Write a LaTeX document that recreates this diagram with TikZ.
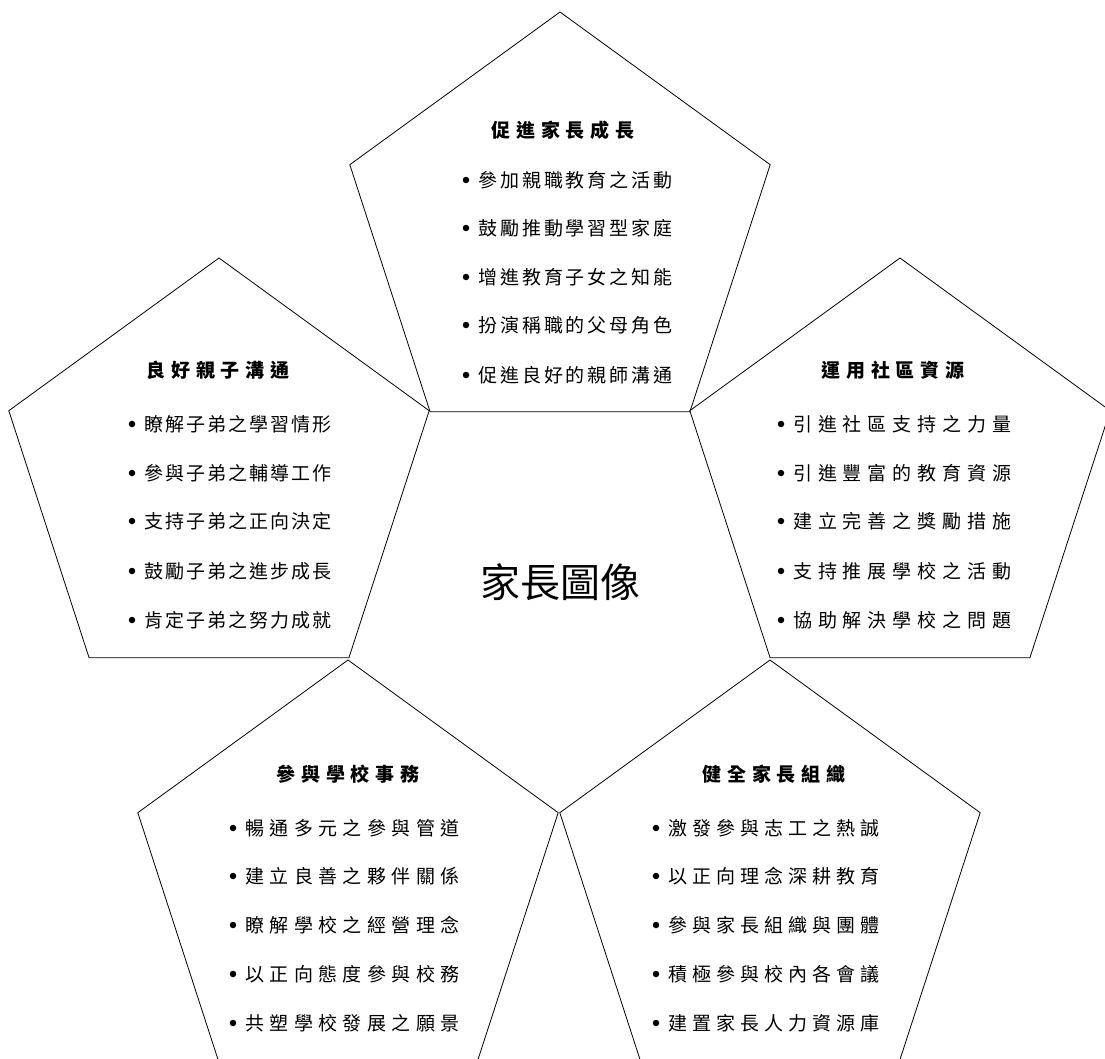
\documentclass[tikz,border=0pt]{standalone}
\usepackage{fontspec}
\usetikzlibrary{shapes.geometric}
\newfontfamily\cjkitemT[LetterSpace=15.5]{Noto Sans CJK TC}
\newfontfamily\cjkitemL[LetterSpace=11]{Noto Sans CJK TC}
\newfontfamily\cjkitemR[LetterSpace=31]{Noto Sans CJK TC}
\newfontfamily\cjkitemBL[LetterSpace=28.5]{Noto Sans CJK TC}
\newfontfamily\cjkitemBR[LetterSpace=26.5]{Noto Sans CJK TC}
\newfontfamily\cjktitle[LetterSpace=30]{Noto Sans CJK TC}
\newfontfamily\cjkbig{Noto Sans CJK TC}
\begin{document}
\begin{tikzpicture}[x=1pt,y=-1pt,
  penta/.style={regular polygon, regular polygon sides=5, minimum size=442pt,
    inner sep=0pt, outer sep=0pt, draw=black, line width=0.8pt},
  ttl/.style={anchor=center, inner sep=0pt, font=\cjktitle\bfseries\fontsize{19}{22}\selectfont},
  itm/.style={anchor=west, inner sep=0pt},
  itmT/.style={itm, font=\cjkitemT\fontsize{19}{22}\selectfont},
  itmL/.style={itm, font=\cjkitemL\fontsize{19}{22}\selectfont},
  itmR/.style={itm, font=\cjkitemR\fontsize{19}{22}\selectfont},
  itmBL/.style={itm, font=\cjkitemBL\fontsize{19}{22}\selectfont},
  itmBR/.style={itm, font=\cjkitemBR\fontsize{19}{22}\selectfont},
  bul/.style={circle, fill=black, inner sep=0pt, minimum size=6.5pt}]
\useasboundingbox (0,0) rectangle (1105,1059);
\begin{scope}
\clip (0,0) rectangle (1105,1059);
\node[penta] (ptop) at (560,233) {};
\node[penta] (pleft) at (219,479) {};
\node[penta] (pright) at (900,479) {};
\node[penta] (pbl) at (348,881) {};
\node[penta] (pbr) at (770,881) {};
\end{scope}

\node[anchor=center, inner sep=0pt, font=\cjkbig\fontsize{40}{44}\selectfont] (center) at (560,582) {家長圖像};

% top
\node[ttl] (t0) at (563,130) {促進家長成長};
\node[bul] (tb1) at (466,180) {}; \node[itmT] (t1) at (478,180) {參加親職教育之活動};
\node[bul] (tb2) at (466,228) {}; \node[itmT] (t2) at (478,228) {鼓勵推動學習型家庭};
\node[bul] (tb3) at (466,277) {}; \node[itmT] (t3) at (478,277) {增進教育子女之知能};
\node[bul] (tb4) at (466,325) {}; \node[itmT] (t4) at (478,325) {扮演稱職的父母角色};
\node[bul] (tb5) at (466,375) {}; \node[itmT] (t5) at (478,375) {促進良好的親師溝通};

% left
\node[ttl] (l0) at (218,370) {良好親子溝通};
\node[bul] (lb1) at (132,424) {}; \node[itmL] (l1) at (144,424) {瞭解子弟之學習情形};
\node[bul] (lb2) at (132,473) {}; \node[itmL] (l2) at (144,473) {參與子弟之輔導工作};
\node[bul] (lb3) at (132,521) {}; \node[itmL] (l3) at (144,521) {支持子弟之正向決定};
\node[bul] (lb4) at (132,571) {}; \node[itmL] (l4) at (144,571) {鼓勵子弟之進步成長};
\node[bul] (lb5) at (132,620) {}; \node[itmL] (l5) at (144,620) {肯定子弟之努力成就};

% right
\node[ttl] (r0) at (893,370) {運用社區資源};
\node[bul] (rb1) at (781,424) {}; \node[itmR] (r1) at (793,424) {引進社區支持之力量};
\node[bul] (rb2) at (781,473) {}; \node[itmR] (r2) at (793,473) {引進豐富的教育資源};
\node[bul] (rb3) at (781,521) {}; \node[itmR] (r3) at (793,521) {建立完善之獎勵措施};
\node[bul] (rb4) at (781,571) {}; \node[itmR] (r4) at (793,571) {支持推展學校之活動};
\node[bul] (rb5) at (781,620) {}; \node[itmR] (r5) at (793,620) {協助解決學校之問題};

% bottom left
\node[ttl] (bl0) at (348,774) {參與學校事務};
\node[bul] (blb1) at (233,828) {}; \node[itmBL] (bl1) at (245,828) {暢通多元之參與管道};
\node[bul] (blb2) at (233,876) {}; \node[itmBL] (bl2) at (245,876) {建立良善之夥伴關係};
\node[bul] (blb3) at (233,925) {}; \node[itmBL] (bl3) at (245,925) {瞭解學校之經營理念};
\node[bul] (blb4) at (233,974) {}; \node[itmBL] (bl4) at (245,974) {以正向態度參與校務};
\node[bul] (blb5) at (233,1023) {}; \node[itmBL] (bl5) at (245,1023) {共塑學校發展之願景};

% bottom right
\node[ttl] (br0) at (774,774) {健全家長組織};
\node[bul] (brb1) at (656,828) {}; \node[itmBR] (br1) at (668,828) {激發參與志工之熱誠};
\node[bul] (brb2) at (656,876) {}; \node[itmBR] (br2) at (668,876) {以正向理念深耕教育};
\node[bul] (brb3) at (656,925) {}; \node[itmBR] (br3) at (668,925) {參與家長組織與團體};
\node[bul] (brb4) at (656,974) {}; \node[itmBR] (br4) at (668,974) {積極參與校內各會議};
\node[bul] (brb5) at (656,1023) {}; \node[itmBR] (br5) at (668,1023) {建置家長人力資源庫};
\end{tikzpicture}
\end{document}
